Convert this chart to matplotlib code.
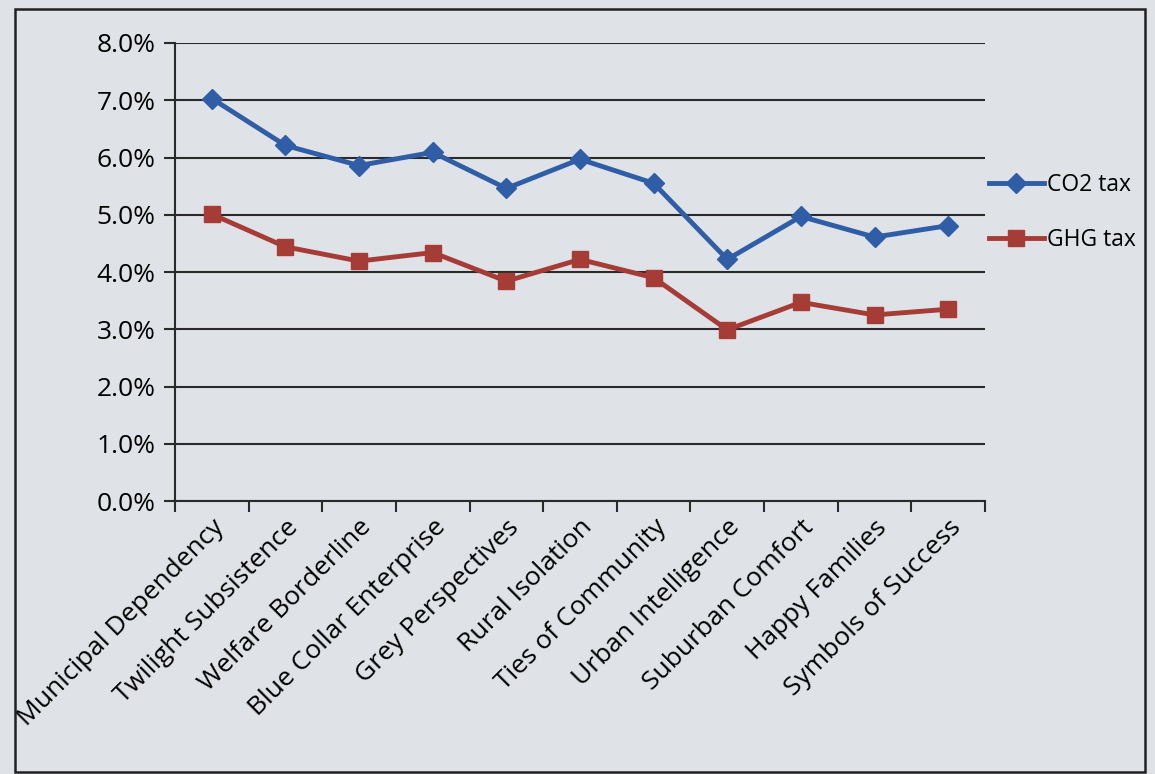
import matplotlib.pyplot as plt
from matplotlib.patches import Rectangle
from matplotlib.lines import Line2D
from matplotlib.ticker import FuncFormatter

groups = ["Municipal Dependency", "Twilight Subsistence", "Welfare Borderline",
          "Blue Collar Enterprise", "Grey Perspectives", "Rural Isolation",
          "Ties of Community", "Urban Intelligence", "Suburban Comfort",
          "Happy Families", "Symbols of Success"]
co2_tax = [7.03, 6.21, 5.86, 6.09, 5.46, 5.97, 5.55, 4.22, 4.97, 4.61, 4.81]
ghg_tax = [5.01, 4.44, 4.19, 4.34, 3.84, 4.22, 3.90, 2.99, 3.47, 3.25, 3.35]

blue = "#2f5ea6"
red = "#a63c36"
bg = "#dfe2e7"

plt.rcParams['font.family'] = ['Open Sans', 'DejaVu Sans']

fig = plt.figure(figsize=(11.55, 7.74), dpi=100, facecolor=bg)
W, H = 1155, 774
ax = fig.add_axes([175 / W, 1 - 501 / H, (985 - 175) / W, (501 - 43) / H])
ax.set_facecolor(bg)

x = list(range(len(groups)))
ax.plot(x, co2_tax, color=blue, lw=3.5, marker='D', ms=10, label="CO2 tax")
ax.plot(x, ghg_tax, color=red, lw=3.5, marker='s', ms=12, label="GHG tax")

ax.set_xlim(-0.5, len(groups) - 0.5)
ax.set_ylim(0, 8)
ax.set_yticks(range(0, 9))
ax.yaxis.set_major_formatter(FuncFormatter(lambda v, p: f"{v:.1f}%"))
ax.grid(axis='y', color='#2a2a2a', lw=1.5)
ax.set_axisbelow(True)

ax.set_xticks([i - 0.5 for i in range(len(groups) + 1)])
ax.set_xticklabels([])
ax.set_xticks(x, minor=True)
ax.set_xticklabels(groups, minor=True, rotation=45, ha='right', va='top',
                   rotation_mode='anchor', fontsize=19)
ax.tick_params(axis='x', which='minor', length=0, pad=10)
ax.tick_params(axis='x', which='major', length=8, width=1.5, color='#2a2a2a')
ax.tick_params(axis='y', length=8, width=1.5, color='#2a2a2a', labelsize=19, pad=6)

for s in ['top', 'right']:
    ax.spines[s].set_visible(False)
for s in ['left', 'bottom']:
    ax.spines[s].set_color('#2a2a2a')
    ax.spines[s].set_linewidth(1.5)

handles = [Line2D([], [], color=blue, lw=3.5, marker='D', ms=10),
           Line2D([], [], color=red, lw=3.5, marker='s', ms=12)]
fig.legend(handles, ["CO2 tax", "GHG tax"], loc='upper left',
           bbox_to_anchor=(968 / W, 1 - 152 / H), frameon=False,
           fontsize=16.5, handlelength=2.4, handletextpad=0.15, labelspacing=1.35)

fig.patches.append(Rectangle((15 / W, 1 - 772 / H), (1145 - 15) / W, (772 - 9) / H,
                             transform=fig.transFigure, fill=False,
                             edgecolor='#222222', lw=1.8))

fig.savefig("out.png", dpi=100, facecolor=bg)
